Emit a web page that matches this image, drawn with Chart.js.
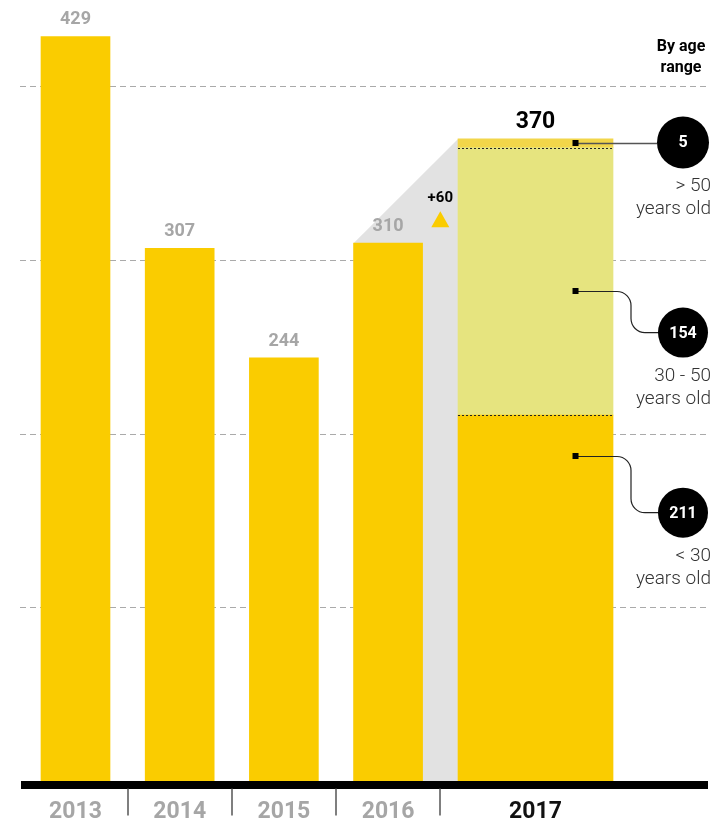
<!DOCTYPE html>
<html><head><meta charset="utf-8">
<script src="https://cdn.jsdelivr.net/npm/chart.js@4.4.1/dist/chart.umd.min.js"></script>
<style>html,body{margin:0;padding:0;background:#fff;}#wrap{width:715px;height:822px;}</style>
</head><body><div id="wrap"><canvas id="c" width="715" height="822"></canvas></div>
<script>
// ---- data ----
const years = ['2013', '2014', '2015', '2016', '2017'];
const totals = [429, 307, 244, 310, 370];
const ageGroups = ['< 30', '30 - 50', '> 50'];
const ages2017 = [211, 154, 5];
const gridValues = [100, 200, 300, 400];
const sideTitle = ['By age', 'range'];
const yearsOldText = 'years old';

// ---- layout (not data) ----
const slots = [0, 1, 2, 3, 4.415];
const calloutAnchor = [187.5, 282.5, 367.5];  // y-values where callout markers sit
const calloutCircle = [154.8, 258.5, 368];    // y-values of callout circles
const YELLOW = '#FACC00';
const segColors = [YELLOW, '#E6E47F', '#F2D64A'];
const FONT = 'Roboto, "Noto Sans", sans-serif';

const datasets = [{
  label: 'Total',
  data: totals.slice(0, 4).map((v, i) => ({x: slots[i], y: v})),
  backgroundColor: YELLOW,
  barThickness: 69,
  stack: 's'
}].concat(ageGroups.map((g, k) => ({
  label: g,
  data: [{x: slots[4], y: ages2017[k]}],
  backgroundColor: segColors[k],
  barThickness: 155,
  stack: 's'
})));

const decor = {
  id: 'decor',
  beforeDatasetsDraw(chart) {
    const {ctx, scales: {y}} = chart;
    const b16 = chart.getDatasetMeta(0).data[3];
    const top17 = chart.getDatasetMeta(3).data[0];
    const base17 = chart.getDatasetMeta(1).data[0];
    const l16 = b16.x - b16.width / 2;
    const l17 = base17.x - base17.width / 2;
    const y0 = y.getPixelForValue(0);
    ctx.save();
    ctx.fillStyle = '#E2E2E2';
    ctx.beginPath();
    ctx.moveTo(l16, b16.y);
    ctx.lineTo(l17, top17.y);
    ctx.lineTo(l17, y0);
    ctx.lineTo(l16, y0);
    ctx.closePath();
    ctx.fill();
    ctx.restore();
  },
  afterDatasetsDraw(chart) {
    const {ctx, chartArea: ca, scales: {x, y}} = chart;
    const y0 = y.getPixelForValue(0);
    ctx.save();
    // baseline
    ctx.fillStyle = '#000';
    ctx.fillRect(ca.left + 1, Math.round(y0 - 0.5), ca.right - ca.left - 2, 8);
    // separators
    ctx.strokeStyle = '#555';
    ctx.lineWidth = 1.5;
    for (let i = 0; i < 4; i++) {
      const px = Math.round(x.getPixelForValue(slots[i] + 0.5));
      ctx.beginPath(); ctx.moveTo(px, y0 + 7); ctx.lineTo(px, y0 + 34); ctx.stroke();
    }
    // dotted separators inside 2017 bar
    ctx.strokeStyle = '#222'; ctx.lineWidth = 1; ctx.setLineDash([2, 2]);
    [1, 2].forEach(d => {
      const el = chart.getDatasetMeta(d).data[0];
      const yy = Math.round(el.y) + 0.5;
      ctx.beginPath(); ctx.moveTo(el.x - el.width / 2, yy); ctx.lineTo(el.x + el.width / 2, yy); ctx.stroke();
    });
    ctx.setLineDash([]);
    // value labels 2013-2016
    ctx.textAlign = 'center'; ctx.textBaseline = 'alphabetic';
    ctx.fillStyle = '#A6A6A6';
    ctx.font = 'bold 18px ' + FONT;
    chart.getDatasetMeta(0).data.forEach((el, i) => {
      ctx.fillText(String(totals[i]), el.x, el.y - 12);
    });
    // 2017 total
    const top17 = chart.getDatasetMeta(3).data[0];
    ctx.fillStyle = '#000';
    ctx.font = 'bold 23px ' + FONT;
    ctx.fillText(String(totals[4]), top17.x, top17.y - 11);
    // change indicator
    const b16 = chart.getDatasetMeta(0).data[3];
    const gx = ((b16.x + b16.width / 2) + (top17.x - top17.width / 2)) / 2;
    const diff = totals[4] - totals[3];
    ctx.font = 'bold 15px ' + FONT;
    ctx.fillText((diff >= 0 ? '+' : '') + diff, gx, b16.y - 41);
    ctx.fillStyle = YELLOW;
    ctx.beginPath();
    ctx.moveTo(gx - 9, b16.y - 16); ctx.lineTo(gx + 9, b16.y - 16); ctx.lineTo(gx, b16.y - 32);
    ctx.closePath(); ctx.fill();
    // callouts
    const mx = top17.x + 40;
    const cx = ca.right - 26;
    const bendX = 631, r = 14;
    ageGroups.forEach((g, k) => {
      const ay = Math.round(y.getPixelForValue(calloutAnchor[k]));
      const cy = y.getPixelForValue(calloutCircle[k]);
      const rad = k === 2 ? 26 : 25;
      ctx.strokeStyle = k === 2 ? '#555' : '#222';
      ctx.lineWidth = k === 2 ? 1.5 : 1.2;
      ctx.beginPath();
      ctx.moveTo(mx, ay + 0.5);
      if (Math.abs(cy - ay) < 3) {
        ctx.lineTo(cx - rad, ay + 0.5);
      } else {
        ctx.lineTo(bendX - r, ay + 0.5);
        ctx.arcTo(bendX, ay + 0.5, bendX, ay + r, r);
        ctx.lineTo(bendX, cy - r);
        ctx.arcTo(bendX, cy, bendX + r, cy, r);
        ctx.lineTo(cx - rad, cy);
      }
      ctx.stroke();
      ctx.fillStyle = '#000';
      ctx.fillRect(mx - 3, ay - 3, 6, 6);
      ctx.beginPath(); ctx.arc(cx, cy, rad, 0, Math.PI * 2); ctx.fill();
      ctx.fillStyle = '#fff';
      ctx.font = 'bold 16px ' + FONT;
      ctx.textAlign = 'center'; ctx.textBaseline = 'middle';
      ctx.fillText(String(ages2017[k]), cx, cy + 1);
      ctx.fillStyle = '#333';
      ctx.font = '300 19px ' + FONT;
      ctx.textAlign = 'right';
      ctx.fillText(g, ca.right + 2, cy + 44);
      ctx.fillText(yearsOldText, ca.right + 2, cy + 67);
    });
    // side title
    ctx.fillStyle = '#000';
    ctx.font = 'bold 16px ' + FONT;
    ctx.textAlign = 'center'; ctx.textBaseline = 'alphabetic';
    ctx.fillText(sideTitle[0], 681, 51);
    ctx.fillText(sideTitle[1], 681, 72);
    ctx.restore();
  }
};

new Chart(document.getElementById('c'), {
  type: 'bar',
  data: {datasets},
  options: {
    responsive: false,
    devicePixelRatio: 1,
    animation: false,
    layout: {padding: {left: 20, right: 6, top: 0, bottom: 0}},
    plugins: {legend: {display: false}, tooltip: {enabled: false}},
    scales: {
      x: {
        type: 'linear', min: -0.5326, max: 6.08, stacked: true, offset: false,
        grid: {display: false, drawTicks: false},
        border: {display: false},
        afterBuildTicks: s => { s.ticks = slots.map(v => ({value: v})); },
        afterFit: s => { s.height = 40.5; },
        ticks: {
          autoSkip: false, maxRotation: 0, padding: 17,
          callback: (v, i) => years[i],
          color: c => c.index === 4 ? '#111' : '#A6A6A6',
          font: {family: FONT, weight: 'bold', size: 23}
        }
      },
      y: {
        min: 0, max: 450, stacked: true,
        afterBuildTicks: s => { s.ticks = [0].concat(gridValues).map(v => ({value: v})); },
        afterFit: s => { s.width = 0; },
        ticks: {display: false},
        border: {display: false, dash: [6, 4]},
        grid: {
          drawTicks: false,
          color: c => c.tick && c.tick.value === 0 ? 'rgba(0,0,0,0)' : '#AAAAAA',
          lineWidth: 1
        }
      }
    }
  },
  plugins: [decor]
});
</script></body></html>
